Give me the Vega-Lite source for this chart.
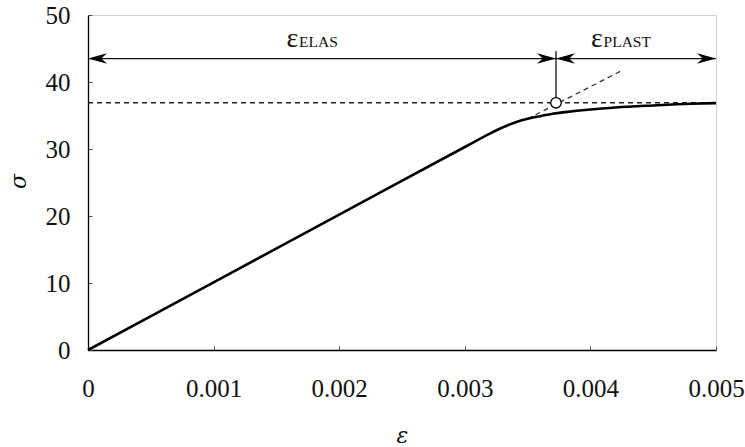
{
  "$schema": "https://vega.github.io/schema/vega-lite/v6.json",
  "width": 628,
  "height": 335,
  "autosize": "none",
  "padding": {"left": 88, "top": 15, "right": 29, "bottom": 97},
  "background": "white",
  "config": {
    "view": {"stroke": "#cfcfcf", "strokeWidth": 1},
    "font": "Liberation Serif",
    "axis": {
      "grid": false,
      "domainColor": "black",
      "domainWidth": 1.3,
      "tickColor": "#555",
      "tickWidth": 1,
      "labelFont": "Liberation Serif",
      "labelFontSize": 25,
      "labelColor": "#111",
      "titleFont": "DejaVu Serif",
      "titleFontStyle": "italic",
      "titleFontWeight": "normal",
      "titleFontSize": 22,
      "titleColor": "#111"
    }
  },
  "datasets": {
    "curve": [
      {"strain": 0, "stress": 0},
      {"strain": 0.001, "stress": 10.1},
      {"strain": 0.002, "stress": 20.2},
      {"strain": 0.003, "stress": 30.3},
      {"strain": 0.0032, "stress": 32.3},
      {"strain": 0.0033, "stress": 33.2},
      {"strain": 0.0034, "stress": 33.95},
      {"strain": 0.0035, "stress": 34.5},
      {"strain": 0.0036, "stress": 34.9},
      {"strain": 0.0037, "stress": 35.25},
      {"strain": 0.0038, "stress": 35.5},
      {"strain": 0.004, "stress": 35.9},
      {"strain": 0.0042, "stress": 36.2},
      {"strain": 0.0045, "stress": 36.5},
      {"strain": 0.0048, "stress": 36.75},
      {"strain": 0.005, "stress": 36.85}
    ],
    "yieldLevel": [{"x": 0, "x2": 0.005, "y": 36.9}],
    "elasticExtension": [
      {"strain": 0.0035, "stress": 34.5},
      {"strain": 0.00426, "stress": 41.8}
    ],
    "yieldPoint": [{"strain": 0.003726, "stress": 36.9}],
    "marker": [{"x": 0.003726, "y": 36.9, "y2": 44.6}],
    "spans": [
      {"x": 0, "x2": 0.003726, "y": 43.5},
      {"x": 0.003726, "x2": 0.005, "y": 43.5}
    ],
    "heads": [
      {"x": 0, "y": 43.5, "dir": "left"},
      {"x": 0.003726, "y": 43.5, "dir": "right"},
      {"x": 0.003726, "y": 43.5, "dir": "left"},
      {"x": 0.005, "y": 43.5, "dir": "right"}
    ],
    "symbols": [
      {"x": 0.00158, "y": 45.2, "label": "ε"},
      {"x": 0.004005, "y": 45.2, "label": "ε"}
    ],
    "subscripts": [
      {"x": 0.00168, "y": 45.2, "label": "ELAS"},
      {"x": 0.004105, "y": 45.2, "label": "PLAST"}
    ]
  },
  "encoding": {
    "x": {
      "type": "quantitative",
      "scale": {"domain": [0, 0.005], "nice": false},
      "axis": {
        "title": "ε",
        "values": [0, 0.001, 0.002, 0.003, 0.004, 0.005],
        "format": "~g",
        "tickSize": -4,
        "labelPadding": 30,
        "labelBaseline": "top",
        "labelFlush": false,
        "titleX": 314,
        "titleY": 92,
        "titleBaseline": "alphabetic",
        "titleAlign": "center"
      }
    },
    "y": {
      "type": "quantitative",
      "scale": {"domain": [0, 50], "nice": false},
      "axis": {
        "title": "σ",
        "values": [0, 10, 20, 30, 40, 50],
        "tickSize": -4,
        "labelPadding": 22,
        "labelFlush": false,
        "titleAngle": -90,
        "titleX": -63,
        "titleY": 166,
        "titleAlign": "center",
        "titleBaseline": "alphabetic"
      }
    }
  },
  "layer": [
    {
      "data": {"name": "yieldLevel"},
      "mark": {"type": "rule", "color": "#222", "strokeWidth": 1.3, "strokeDash": [5, 4]},
      "encoding": {"x": {"field": "x"}, "x2": {"field": "x2"}, "y": {"field": "y"}}
    },
    {
      "data": {"name": "elasticExtension"},
      "mark": {"type": "line", "color": "#333", "strokeWidth": 1.3, "strokeDash": [5, 4]},
      "encoding": {"x": {"field": "strain"}, "y": {"field": "stress"}}
    },
    {
      "data": {"name": "curve"},
      "mark": {"type": "line", "color": "black", "strokeWidth": 2.6, "interpolate": "monotone"},
      "encoding": {"x": {"field": "strain"}, "y": {"field": "stress"}}
    },
    {
      "data": {"name": "marker"},
      "mark": {"type": "rule", "color": "#111", "strokeWidth": 1.3},
      "encoding": {"x": {"field": "x"}, "y": {"field": "y"}, "y2": {"field": "y2"}}
    },
    {
      "data": {"name": "spans"},
      "mark": {"type": "rule", "color": "#111", "strokeWidth": 1.3},
      "encoding": {"x": {"field": "x"}, "x2": {"field": "x2"}, "y": {"field": "y"}}
    },
    {
      "data": {"name": "heads"},
      "mark": {"type": "point", "filled": true, "color": "black", "opacity": 1, "size": 361},
      "encoding": {
        "x": {"field": "x"},
        "y": {"field": "y"},
        "shape": {
          "field": "dir",
          "type": "nominal",
          "legend": null,
          "scale": {
            "domain": ["left", "right"],
            "range": ["M0,0 L2,-0.55 L1.4,0 L2,0.55 Z", "M0,0 L-2,-0.55 L-1.4,0 L-2,0.55 Z"]
          }
        }
      }
    },
    {
      "data": {"name": "yieldPoint"},
      "mark": {"type": "point", "shape": "circle", "size": 110, "fill": "white", "stroke": "black", "strokeWidth": 1.3, "opacity": 1},
      "encoding": {"x": {"field": "strain"}, "y": {"field": "stress"}}
    },
    {
      "data": {"name": "symbols"},
      "mark": {"type": "text", "align": "left", "baseline": "alphabetic", "font": "Liberation Serif", "fontSize": 28, "color": "#111"},
      "encoding": {"x": {"field": "x"}, "y": {"field": "y"}, "text": {"field": "label"}}
    },
    {
      "data": {"name": "subscripts"},
      "mark": {"type": "text", "align": "left", "baseline": "alphabetic", "font": "Liberation Serif", "fontSize": 15.5, "color": "#111"},
      "encoding": {"x": {"field": "x"}, "y": {"field": "y"}, "text": {"field": "label"}}
    }
  ]
}
